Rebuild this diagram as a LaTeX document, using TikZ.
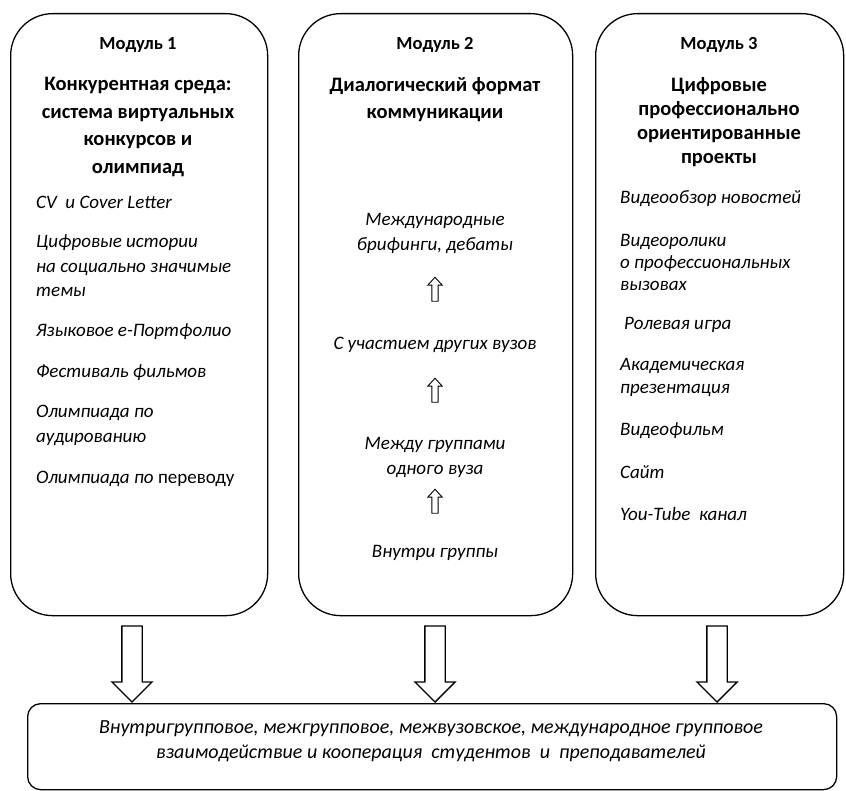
\documentclass[tikz,border=0pt]{standalone}
\usepackage{fontspec}
\setmainfont{Carlito}
\usetikzlibrary{shapes.arrows}

\begin{document}
\begin{tikzpicture}[x=1pt,y=-1pt,
    modbox/.style={draw,line width=1.3pt,rounded corners=42pt,anchor=north west,inner sep=0pt},
    resbox/.style={draw,line width=1.3pt,rounded corners=13pt,anchor=north west,inner sep=0pt},
    modname/.style={font=\bfseries\fontsize{18.5}{20}\selectfont},
    modtitle/.style={font=\bfseries\fontsize{20.5}{27.4}\selectfont,align=center},
    item/.style={font=\itshape\fontsize{19}{24.5}\selectfont,align=left,anchor=west,inner sep=0pt},
    citem/.style={font=\itshape\fontsize{19}{25}\selectfont,align=center,inner sep=0pt},
    bigarrow/.style={draw,line width=1.3pt,single arrow,rotate=-90,
      minimum height=76pt,inner xsep=0pt,inner ysep=9.5pt,single arrow head extend=10pt},
    smallarrow/.style={draw,line width=0.9pt,single arrow,rotate=90,
      minimum height=24pt,inner xsep=0pt,inner ysep=2.7pt,single arrow head extend=4pt,
      single arrow tip angle=85}]
  \useasboundingbox (0,0) rectangle (846,791);

  % three modules
  \node[modbox,minimum width=257pt,minimum height=602pt] (m1) at (10,13) {};
  \node[modbox,minimum width=274pt,minimum height=602pt] (m2) at (298,13) {};
  \node[modbox,minimum width=248pt,minimum height=602pt] (m3) at (595,13) {};

  \node[modname] (n1) at (138,45) {Модуль 1};
  \node[modname] (n2) at (435,45) {Модуль 2};
  \node[modname] (n3) at (719,45) {Модуль 3};

  \node[modtitle] (t1) at (138,127) {Конкурентная среда:\\система виртуальных\\конкурсов и\\олимпиад};
  \node[modtitle] (t2) at (435,99.5) {Диалогический формат\\коммуникации};
  \node[modtitle,font=\bfseries\fontsize{20.5}{24}\selectfont] (t3) at (719,122) {Цифровые\\профессионально\\ориентированные\\проекты};

  % module 1
  \node[item] (a1) at (36,202) {CV\ \ и Cover Letter};
  \node[item] (a2) at (36,266) {Цифровые истории\\на социально значимые\\темы};
  \node[item] (a3) at (36,332) {Языковое е-Портфолио};
  \node[item] (a4) at (36,373) {Фестиваль фильмов};
  \node[item] (a5) at (36,425.5) {Олимпиада по\\аудированию};
  \node[item] (a6) at (36,479) {Олимпиада по {\upshape переводу}};

  % module 2
  \node[citem] (b4) at (435,233.5) {Международные\\брифинги, дебаты};
  \node[citem] (b3) at (435,345) {С участием других вузов};
  \node[citem] (b2) at (435,457.5) {Между группами\\одного вуза};
  \node[citem] (b1) at (435,553) {Внутри группы};
  \node[smallarrow] (u1) at (435,503) {};
  \node[smallarrow] (u2) at (435,392) {};
  \node[smallarrow] (u3) at (435,291) {};

  % module 3
  \node[item,font=\itshape\fontsize{19}{22}\selectfont] (c1) at (620,199) {Видеообзор новостей};
  \node[item,font=\itshape\fontsize{19}{22}\selectfont] (c2) at (620,262) {Видеоролики\\о профессиональных\\вызовах};
  \node[item] (c3) at (624,325) {Ролевая игра};
  \node[item,font=\itshape\fontsize{19}{23}\selectfont] (c4) at (620,377.5) {Академическая\\презентация};
  \node[item] (c5) at (620,431) {Видеофильм};
  \node[item] (c6) at (620,472) {Сайт};
  \node[item] (c7) at (620,514) {You-Tube\ \ канал};

  % result
  \node[resbox,minimum width=809pt,minimum height=86pt] (res) at (27,703) {};
  \node[citem,font=\itshape\fontsize{20}{25}\selectfont] (rt) at (431,741)
    {Внутригрупповое, межгрупповое, межвузовское, международное групповое\\взаимодействие и кооперация\ \ студентов\ \ и\ \ преподавателей};

  \node[bigarrow] (d1) at (132,659) {};
  \node[bigarrow] (d2) at (435,659) {};
  \node[bigarrow] (d3) at (717,659) {};
\end{tikzpicture}
\end{document}
